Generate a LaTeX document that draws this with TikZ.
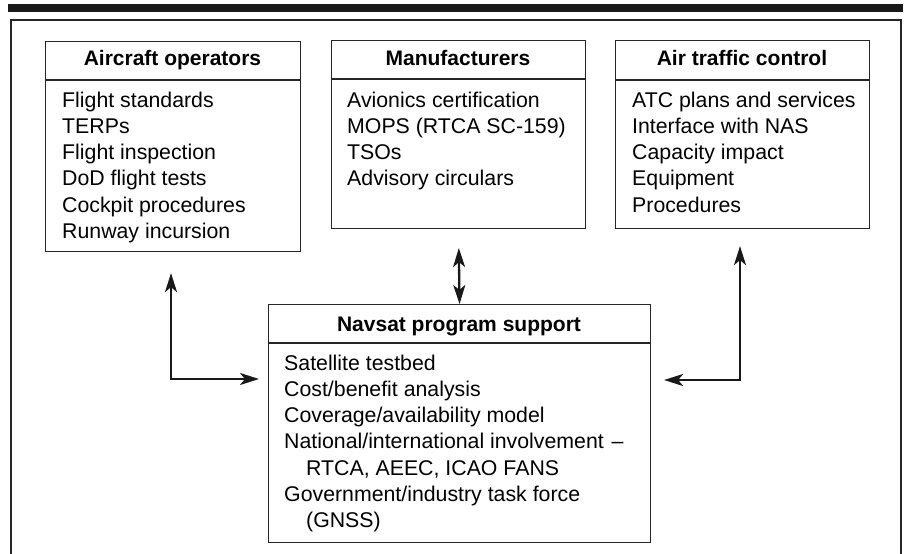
\documentclass[tikz,border=0pt]{standalone}
\usepackage{fontspec}
\setmainfont{Liberation Sans}
\usetikzlibrary{arrows.meta}

\tikzset{
  panel/.style={draw=black!85, line width=1.1pt, anchor=north west, inner sep=0pt},
  head/.style={anchor=base, inner sep=0pt, font=\fontsize{21}{25}\selectfont\bfseries},
  item/.style={anchor=base west, inner sep=0pt, font=\fontsize{21.3}{25}\selectfont},
  tip/.tip={Stealth[length=19pt,width=12pt,inset=5pt]},
  link/.style={line width=2.3pt, draw=black!90, tip-tip},
  rule/.style={draw=black!85, line width=1.1pt},
}

\begin{document}
\begin{tikzpicture}[x=1pt,y=-1pt]
  \useasboundingbox[fill=white] (0,0) rectangle (905,554);

  % heavy bar and open frame
  \fill[black!90] (8,4) rectangle (903,12);
  \draw[black!85, line width=1.2pt] (11,554) -- (11,20) -- (901,20) -- (901,554);

  % boxes
  \node[panel, minimum width=255pt, minimum height=210pt] (ops) at (45,41) {};
  \node[panel, minimum width=254pt, minimum height=188pt] (mfr) at (331,40) {};
  \node[panel, minimum width=254pt, minimum height=188pt] (atc) at (615,40) {};
  \node[panel, minimum width=382pt, minimum height=238pt] (nav) at (268,304) {};

  % header rules
  \draw[rule] ([yshift=-39pt]ops.north west) -- ([yshift=-39pt]ops.north east);
  \draw[rule] ([yshift=-39pt]mfr.north west) -- ([yshift=-39pt]mfr.north east);
  \draw[rule] ([yshift=-40pt]atc.north west) -- ([yshift=-40pt]atc.north east);
  \draw[rule] ([yshift=-39pt]nav.north west) -- ([yshift=-39pt]nav.north east);

  % headers
  \node[head] (ops-h) at (172.5,65) {Aircraft operators};
  \node[head] (mfr-h) at (458,65) {Manufacturers};
  \node[head] (atc-h) at (742,65) {Air traffic control};
  \node[head] (nav-h) at (459,331) {Navsat program support};

  % contents
  \foreach \t [count=\i] in {Flight standards, TERPs, Flight inspection,
      DoD flight tests, Cockpit procedures, Runway incursion}
    \node[item] (ops-\i) at (62,{107+26.25*(\i-1)}) {\t};
  \foreach \t [count=\i] in {Avionics certification, MOPS (RTCA SC-159),
      TSOs, Advisory circulars}
    \node[item] (mfr-\i) at (347,{107+26.25*(\i-1)}) {\t};
  \foreach \t [count=\i] in {ATC plans and services, Interface with NAS,
      Capacity impact, Equipment, Procedures}
    \node[item] (atc-\i) at (632,{107+26.25*(\i-1)}) {\t};
  \foreach \dx/\t [count=\i] in {0/Satellite testbed, 0/Cost\slash benefit analysis,
      0/Coverage\slash availability model,
      0/National\slash international involvement\hspace{2pt} --,
      22/{RTCA, AEEC, ICAO FANS},
      0/Government\slash industry task force, 22/(GNSS)}
    \node[item] (nav-\i) at ({284+\dx},{370+26.3*(\i-1)}) {\t};

  % connectors
  \draw[link, shorten <=19pt] (mfr.south) -- (nav.north);
  \draw[link, shorten <=21pt, shorten >=9pt]
    ([xshift=126pt]ops.south west) |- ([yshift=-75pt]nav.north west);
  \draw[link, shorten <=17pt, shorten >=13pt]
    ([xshift=125pt]atc.south west) |- ([yshift=-76pt]nav.north east);
\end{tikzpicture}
\end{document}
